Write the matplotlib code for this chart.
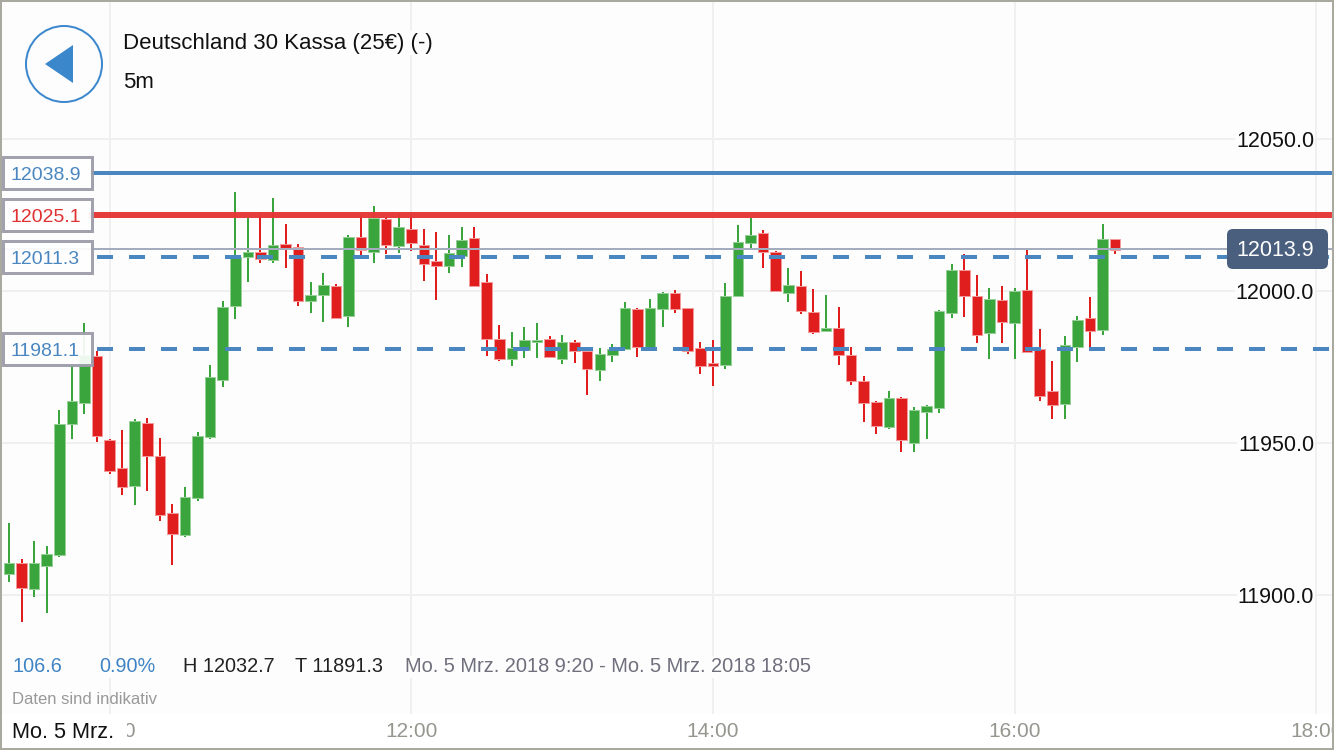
#!/usr/bin/env python3
"""Candlestick chart, DAX 5m, 5 March 2018."""
import matplotlib
matplotlib.use("Agg")
import matplotlib.pyplot as plt
from matplotlib.patches import Circle, FancyBboxPatch, Polygon, Rectangle
import numpy as np

plt.rcParams["font.family"] = ["Liberation Sans", "DejaVu Sans"]

# 5 minute candles, first one at 9:20
opens = [11906.9, 11910.4, 11901.9, 11909.6, 11913.2, 11956.2, 11963.1, 11978.6, 11951.0, 11941.7,
         11935.9, 11956.7, 11945.8, 11927.0, 11919.7, 11932.0, 11952.1, 11970.8, 11995.2, 12011.3,
         12012.7, 12010.2, 12015.4, 12014.4, 11996.6, 11998.7, 12001.7, 11991.7, 12017.9, 12012.9,
         12023.7, 12014.8, 12020.4, 12015.2, 12009.8, 12008.1, 12011.6, 12017.3, 12002.9, 11984.1,
         11977.6, 11980.6, 11983.1, 11984.1, 11977.5, 11983.1, 11980.2, 11974.1, 11978.9, 11980.9,
         11994.2, 11981.5, 11994.2, 11999.2, 11994.3, 11981.3, 11976.3, 11975.7, 11998.4, 12015.8,
         12019.0, 12012.9, 11999.4, 12001.7, 11993.2, 11986.7, 11987.7, 11978.9, 11970.4, 11963.4,
         11955.4, 11964.7, 11949.9, 11960.2, 11961.4, 11992.9, 12007.0, 11998.5, 11986.3, 11997.0,
         11989.5, 12000.3, 11980.8, 11967.0, 11962.8, 11981.6, 11991.3, 11987.1, 12017.0]
closes = [11910.4, 11902.5, 11910.4, 11913.5, 11956.3, 11963.8, 11979.0, 11952.3, 11940.8, 11935.6,
          11957.1, 11945.8, 11926.3, 11920.1, 11932.2, 11952.3, 11971.8, 11994.8, 12011.3, 12012.9,
          12010.4, 12015.1, 12014.2, 11996.8, 11998.7, 12001.9, 11991.2, 12017.8, 12013.4, 12024.0,
          12015.2, 12021.0, 12015.7, 12008.9, 12008.3, 12012.4, 12016.7, 12001.7, 11984.3, 11977.7,
          11981.2, 11983.9, 11983.8, 11978.3, 11983.3, 11980.2, 11974.3, 11979.2, 11980.9, 11994.3,
          11981.7, 11994.4, 11999.4, 11994.0, 11980.4, 11975.4, 11975.4, 11998.4, 12016.0, 12018.5,
          12012.9, 12000.0, 12002.0, 11993.5, 11986.4, 11987.9, 11979.0, 11970.5, 11963.3, 11955.7,
          11964.9, 11951.0, 11960.9, 11962.2, 11993.3, 12006.8, 11998.5, 11985.5, 11997.3, 11989.7,
          12000.0, 11980.0, 11965.5, 11962.5, 11982.3, 11990.5, 11986.8, 12017.1, 12013.6]
highs = [11923.7, 11912.0, 11917.8, 11916.1, 11960.9, 11975.3, 11989.6, 11980.3, 11951.3, 11954.3,
         11957.9, 11958.3, 11951.6, 11929.9, 11935.4, 11953.7, 11975.6, 11996.6, 12032.7, 12024.1,
         12025.0, 12030.5, 12022.0, 12015.6, 12003.1, 12005.8, 12002.3, 12018.4, 12025.0, 12028.0,
         12024.0, 12025.3, 12025.0, 12020.4, 12019.4, 12018.4, 12021.1, 12021.1, 12005.6, 11988.8,
         11986.4, 11988.1, 11989.6, 11985.2, 11985.5, 11983.9, 11980.6, 11981.4, 11982.6, 11996.4,
         11994.3, 11997.4, 11999.7, 12000.2, 11994.4, 11983.1, 11983.9, 12002.5, 12021.7, 12024.1,
         12020.0, 12013.2, 12007.5, 12006.5, 12000.7, 11998.6, 11994.6, 11981.7, 11972.1, 11963.7,
         11967.1, 11965.0, 11961.9, 11962.6, 11993.8, 12009.0, 12012.2, 12005.2, 12000.9, 12001.6,
         12000.9, 12013.5, 11987.5, 11977.0, 11985.1, 11991.7, 11998.0, 12022.1, 12017.1]
lows = [11904.3, 11891.3, 11899.5, 11894.0, 11912.4, 11951.2, 11959.4, 11950.4, 11939.7, 11933.0,
        11929.6, 11934.3, 11924.4, 11910.0, 11919.1, 11931.0, 11951.4, 11968.5, 11990.7, 12003.0,
        12009.1, 12009.1, 12007.7, 11995.2, 11992.7, 11989.9, 11991.0, 11988.2, 12010.4, 12009.1,
        12012.2, 12012.4, 12013.2, 12003.4, 11996.9, 12006.0, 12007.9, 12001.6, 11978.6, 11977.1,
        11975.4, 11978.1, 11977.9, 11977.9, 11975.9, 11976.4, 11965.9, 11970.4, 11976.6, 11980.8,
        11978.4, 11981.4, 11988.3, 11992.7, 11979.3, 11972.7, 11968.8, 11974.2, 11998.1, 12013.7,
        12007.6, 11999.6, 11996.3, 11992.5, 11985.8, 11986.6, 11975.6, 11969.0, 11957.0, 11953.0,
        11954.5, 11947.0, 11947.0, 11951.2, 11959.8, 11991.0, 11991.5, 11982.8, 11977.7, 11983.0,
        11977.7, 11979.8, 11963.8, 11957.8, 11957.8, 11976.6, 11981.0, 11985.6, 12012.3]

y_ticks = [11900.0, 11950.0, 12000.0, 12050.0]
x_hours = [10, 12, 14, 16, 18]
x_labels = ["10:00", "12:00", "14:00", "16:00", "18:00"]
first_minute = 9 * 60 + 20

solid_levels = [12038.9, 12025.1]
dashed_levels = [12011.3, 11981.1]
last_price = 12013.9

GREEN, GREEN_EDGE = "#3aa53c", "#96d097"
RED, RED_EDGE = "#e01e1e", "#f29a9a"
BLUE = "#4a86c0"
PX = 72 / 100  # one pixel in points


def main():
    fig = plt.figure(figsize=(13.34, 7.5), dpi=100, facecolor="white")
    ax = fig.add_axes([0, 36 / 750, 1, 714 / 750], facecolor="#fdfdfd")
    ax.set_xlim(-0.716, 105.41)
    ax.set_ylim(11860.9, 12095.72)
    for s in ax.spines.values():
        s.set_visible(False)

    # time axis: one slot per 5 minutes
    ax.set_xticks([(h * 60 - first_minute) / 5 for h in x_hours], x_labels)
    ax.set_yticks(y_ticks, [f"{v:.1f}" for v in y_ticks])
    ax.yaxis.tick_right()
    ax.tick_params(axis="x", length=0, pad=8 * PX, labelsize=15, labelcolor="#96968f")
    ax.tick_params(axis="y", length=0, pad=-20 * PX, labelsize=15.5, labelcolor="#111111")
    for lab in ax.get_yticklabels():
        lab.set_ha("right")
        lab.set_bbox(dict(facecolor="#fdfdfd", edgecolor="none", pad=0.5))
    ax.grid(color="#f0f0f0", lw=2 * PX)
    ax.set_axisbelow(True)

    o, c = np.array(opens), np.array(closes)
    xs = np.arange(len(o))
    up = c >= o
    wick_cols = [GREEN if u else RED for u in up]
    ax.vlines(xs, lows, highs, colors=wick_cols, lw=2 * PX, zorder=3)
    ax.bar(xs, np.abs(c - o), bottom=np.minimum(o, c), width=0.84,
           color=wick_cols, edgecolor=[GREEN_EDGE if u else RED_EDGE for u in up],
           lw=1 * PX, zorder=3.2)

    ax.axhline(last_price, color="#a3adbd", lw=2 * PX, zorder=3.5)
    ax.axhline(solid_levels[0], xmin=92 / 1334, color=BLUE, lw=4 * PX, zorder=4)
    ax.axhline(solid_levels[1], xmin=92 / 1334, color="#e53535", lw=6 * PX, alpha=0.97, zorder=4)
    for v in dashed_levels:
        ax.axhline(v, xmin=97 / 1334, color=BLUE, lw=4 * PX, dashes=(4, 4),
                   dash_capstyle="butt", zorder=4)

    # everything around the chart lives on a pixel sized overlay
    ov = fig.add_axes([0, 0, 1, 1], facecolor="none", zorder=5)
    ov.set_xlim(0, 1334)
    ov.set_ylim(750, 0)
    ov.axis("off")

    bg = dict(facecolor="#fdfdfd", edgecolor="none", pad=1)
    ov.add_patch(Circle((64, 64), 38, facecolor="#fdfdfd", edgecolor="#3d87cc", lw=2 * PX))
    ov.add_patch(Polygon([(45, 64), (73, 45), (73, 83)], facecolor="#3b87cc", edgecolor="none"))
    ov.text(123, 43, "Deutschland 30 Kassa (25€) (-)", fontsize=16, color="#111111", va="center", bbox=bg)
    ov.text(123, 83, "5m", fontsize=16, color="#111111", va="center")

    boxes = [(157, 189, "12038.9", BLUE), (199, 231, "12025.1", "#e03030"),
             (241, 273, "12011.3", BLUE), (333, 365, "11981.1", BLUE)]
    for y0, y1, txt, col in boxes:
        ov.add_patch(Rectangle((3, y0), 89, y1 - y0, facecolor="white", edgecolor="#9a9aa8",
                               lw=3 * PX, alpha=0.92))
        ov.text(10, (y0 + y1) / 2 + 3, txt, fontsize=14, color=col, va="center")

    ov.add_patch(FancyBboxPatch((1230, 232), 95, 34, boxstyle="round,pad=3,rounding_size=6",
                                facecolor="#4a5f7e", edgecolor="none"))
    ov.text(1275, 250, f"{last_price:.1f}", fontsize=15.5, color="white", ha="center", va="center")

    ov.text(12, 667, "106.6", fontsize=14.3, color="#3f84c4", va="center", bbox=bg)
    ov.text(99, 667, "0.90%", fontsize=14.3, color="#3f84c4", va="center", bbox=bg)
    ov.text(183, 667, "H 12032.7", fontsize=14.3, color="#222222", va="center", bbox=bg)
    ov.text(295, 667, "T 11891.3", fontsize=14.3, color="#222222", va="center", bbox=bg)
    ov.text(405, 667, "Mo. 5 Mrz. 2018 9:20 - Mo. 5 Mrz. 2018 18:05", fontsize=14.4,
            color="#6f6f7d", va="center", bbox=bg)
    ov.text(12, 700, "Daten sind indikativ", fontsize=12, color="#999999", va="center")

    ov.add_patch(Rectangle((0, 714), 127, 36, facecolor="white", edgecolor="none"))
    ov.text(12, 733, "Mo. 5 Mrz.", fontsize=15.6, color="#111111", va="center")

    # app frame
    ov.add_patch(Rectangle((1, 1), 1332, 748, facecolor="none", edgecolor="#a9a9a0", lw=2 * PX))

    fig.savefig("out.png", dpi=100)


if __name__ == "__main__":
    main()
